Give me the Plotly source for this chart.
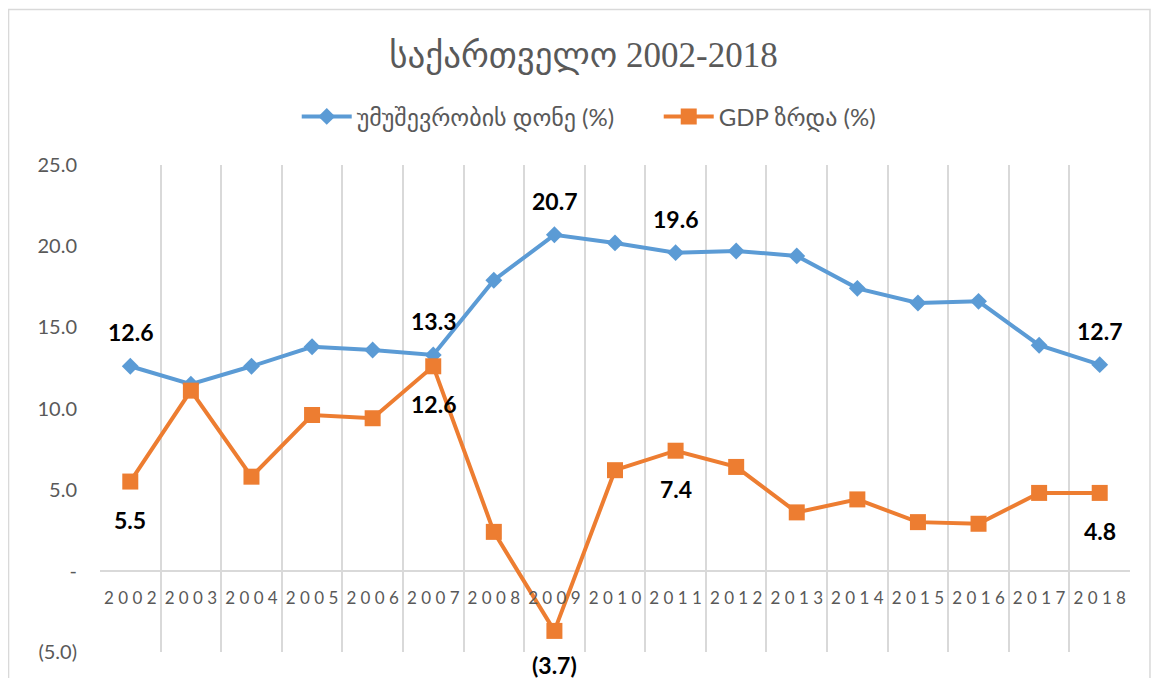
import plotly.graph_objects as go

years = [str(y) for y in range(2002, 2019)]
unemployment = [12.6, 11.5, 12.6, 13.8, 13.6, 13.3, 17.9, 20.7, 20.2, 19.6, 19.7, 19.4, 17.4, 16.5, 16.6, 13.9, 12.7]
gdp_growth = [5.5, 11.1, 5.8, 9.6, 9.4, 12.6, 2.4, -3.7, 6.2, 7.4, 6.4, 3.6, 4.4, 3.0, 2.9, 4.8, 4.8]
labelled_years = ["2002", "2007", "2009", "2011", "2018"]
y_tickvals = [25, 20, 15, 10, 5, 0, -5]
y_ticktext = ["25.0", "20.0", "15.0", "10.0", "5.0", "-", "(5.0)"]

name_unemp = "უმუშევრობის დონე (%)"
name_gdp = "GDP ზრდა (%)"
title_text = "საქართველო 2002-2018"

BLUE = "#5B9BD5"
ORANGE = "#ED7D31"
GRAY = "#595959"
GRID = "#D9D9D9"
LATIN = "Lato, 'DejaVu Sans', sans-serif"


def fmt(v):
    return f"({abs(v):.1f})" if v < 0 else f"{v:.1f}"


fig = go.Figure()
fig.add_trace(go.Scatter(
    x=years, y=unemployment, name=name_unemp, mode="lines+markers",
    line=dict(color=BLUE, width=4),
    marker=dict(symbol="diamond", size=13, color=BLUE),
))
fig.add_trace(go.Scatter(
    x=years, y=gdp_growth, name=name_gdp, mode="lines+markers",
    line=dict(color=ORANGE, width=4),
    marker=dict(symbol="square", size=16, color=ORANGE),
))

# data labels (x given as category serial number)
for i, (yr, v) in enumerate(zip(years, unemployment)):
    if yr in labelled_years:
        fig.add_annotation(x=i, y=v, text=fmt(v), showarrow=False, yshift=34,
                           font=dict(family=LATIN, size=23, color="black", weight="bold"))
for i, (yr, v) in enumerate(zip(years, gdp_growth)):
    if yr in labelled_years:
        fig.add_annotation(x=i, y=v, text=fmt(v), showarrow=False,
                           yshift=-34 if v < 0 else -38,
                           font=dict(family=LATIN, size=23, color="black", weight="bold"))

# chart-area border
fig.add_shape(type="rect", xref="paper", yref="paper",
              x0=-0.0888, x1=1.0194, y0=-0.1, y1=1.3193,
              line=dict(color=GRID, width=1.5), layer="below")

fig.update_layout(
    width=1159, height=678,
    margin=dict(l=92, r=37, t=157, b=34),
    paper_bgcolor="white", plot_bgcolor="white",
    title=dict(text=title_text, x=0.4965, xref="container", xanchor="center",
               y=0.9306, yref="container", yanchor="middle",
               font=dict(family="'Liberation Serif', 'DejaVu Sans', serif", size=35, color=GRAY)),
    legend=dict(orientation="h", x=0.191, xanchor="left", y=1.099, yanchor="middle",
                font=dict(family=LATIN, size=24, color=GRAY),
                itemwidth=50, entrywidth=297, entrywidthmode="pixels",
                traceorder="normal"),
    showlegend=True,
)

fig.update_xaxes(
    type="category", range=[-0.5, len(years) - 0.5], tickson="boundaries",
    tickmode="array", tickvals=years, ticktext=[" ".join(y) for y in years],
    tickangle=0,
    showgrid=True, gridcolor=GRID, gridwidth=2,
    showline=False, zeroline=False, ticks="",
    anchor="free", position=5 / 30, ticklabelstandoff=15,
    tickfont=dict(family=LATIN, size=17, color=GRAY),
)
fig.update_yaxes(
    range=[-5, 25], tickmode="array", tickvals=y_tickvals, ticktext=y_ticktext,
    showgrid=False, zeroline=True, zerolinecolor=GRID, zerolinewidth=2,
    showline=False, ticks="", ticklabelstandoff=22,
    tickfont=dict(family=LATIN, size=20, color=GRAY),
)

fig.write_html("out.html")
